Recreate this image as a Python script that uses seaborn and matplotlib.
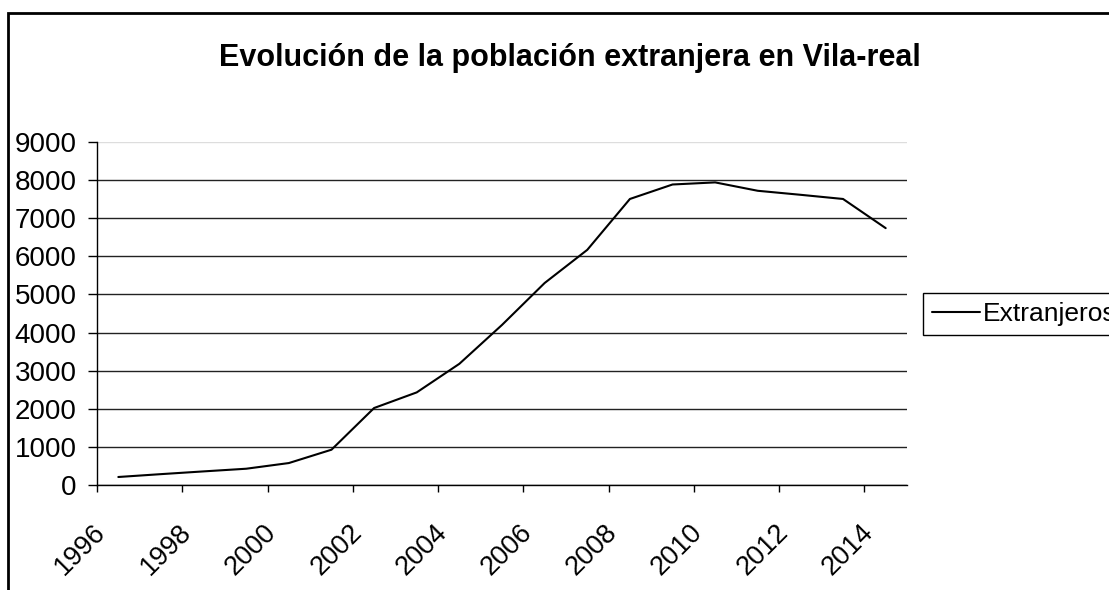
import matplotlib
matplotlib.use('Agg')
import matplotlib.pyplot as plt
import matplotlib.transforms as mtransforms
from matplotlib.patches import Rectangle
import seaborn as sns
import pandas as pd

# data
years = list(range(1996, 2015))
extranjeros = [210, 285, 357, 427, 576, 926, 2020, 2430, 3180, 4200,
               5300, 6170, 7505, 7885, 7940, 7720, 7615, 7505, 6740]
tick_years = list(range(1996, 2015, 2))
y_ticks = list(range(0, 9001, 1000))

title = 'Evolución de la población extranjera en Vila-real'
serie = 'Extranjeros'

# Excel category axis: each value sits in the middle of its year
df = pd.DataFrame({'year': years, 'value': extranjeros})
df['pos'] = df['year'] + 0.5

sns.set_style('white')
plt.rcParams['font.family'] = ['Liberation Sans', 'DejaVu Sans']
plt.rcParams['text.color'] = 'black'
plt.rcParams['xtick.color'] = 'black'
plt.rcParams['ytick.color'] = 'black'

fig = plt.figure(figsize=(11.09, 5.90), dpi=100)
ax = fig.add_axes([97 / 1109, 1 - 485 / 590, 810 / 1109, 343 / 590])

sns.lineplot(data=df, x='pos', y='value', ax=ax, color='black',
             linewidth=1.5, label=serie)

ax.set_xlim(1996, 2015)
ax.set_ylim(0, 9000)
ax.set_yticks(y_ticks)
ax.set_yticklabels([str(v) for v in y_ticks], fontsize=20)
ax.set_xticks(tick_years)
ax.set_xticklabels([str(y) for y in tick_years], fontsize=19.5, rotation=45,
                   ha='right', va='center', rotation_mode='anchor')
ax.set_xlabel('')
ax.set_ylabel('')

ax.tick_params(axis='y', direction='out', length=6.5, width=1, color='black',
               pad=8, left=True, labelcolor='black')
ax.tick_params(axis='x', direction='out', length=5, width=1, color='black',
               pad=26, bottom=True, labelcolor='black')

shift = mtransforms.ScaledTranslation(5 / 100, 0, fig.dpi_scale_trans)
for lab in ax.get_xticklabels():
    lab.set_transform(lab.get_transform() + shift)

ax.grid(axis='y', color='#222222', linewidth=1)
ax.grid(axis='x', visible=False)
ax.get_ygridlines()[-1].set_color('#dddddd')
ax.set_axisbelow(True)

for s in ['top', 'right']:
    ax.spines[s].set_visible(False)
for s in ['left', 'bottom']:
    ax.spines[s].set_color('black')
    ax.spines[s].set_linewidth(1)

ax.legend_.remove()
leg = fig.legend(*ax.get_legend_handles_labels(), loc='upper left',
                 bbox_to_anchor=(923 / 1109, 1 - 293 / 590),
                 bbox_transform=fig.transFigure, fontsize=19,
                 frameon=True, fancybox=False, framealpha=1,
                 edgecolor='black', borderpad=0.35, handlelength=1.8,
                 handletextpad=0.12, borderaxespad=0, labelcolor='black')
leg.get_frame().set_linewidth(1)

fig.text(570 / 1109, 1 - 58 / 590, title, ha='center', va='center',
         fontsize=22, fontweight='bold', color='black')

# chart-area border, cut off on the right and bottom like the reference
fig.patches.append(Rectangle((8 / 1109, -0.2), 1.2, 1.2 - 13 / 590,
                             transform=fig.transFigure, fill=False,
                             edgecolor='black', linewidth=2))

fig.savefig('out.png', dpi=100)
